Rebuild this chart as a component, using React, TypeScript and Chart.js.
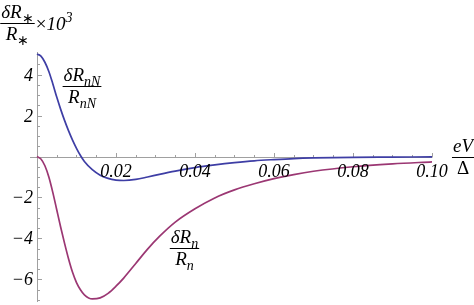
import React, { useEffect, useRef } from 'react';
import { Chart, registerables } from 'chart.js';

Chart.register(...registerables);

// eV/Δ values
const xValues = [0, 0.001, 0.002, 0.003, 0.004, 0.005, 0.006, 0.007, 0.008, 0.009, 0.010, 0.011, 0.012, 0.014, 0.016, 0.018, 0.020, 0.022, 0.025, 0.028, 0.031, 0.035, 0.040, 0.045, 0.050, 0.055, 0.060, 0.065, 0.070, 0.080, 0.090, 0.100];
// δR_nN / R_nN × 10^3
const nNValues = [5.0, 4.9, 4.6, 4.15, 3.55, 2.9, 2.3, 1.75, 1.25, 0.8, 0.4, 0.05, -0.24, -0.64, -0.91, -1.07, -1.15, -1.17, -1.12, -1.0, -0.87, -0.71, -0.54, -0.41, -0.3, -0.21, -0.15, -0.1, -0.07, -0.04, -0.03, -0.02];
// δR_n / R_n × 10^3
const nValues = [0, -0.12, -0.45, -1.0, -1.75, -2.6, -3.45, -4.25, -5.0, -5.65, -6.15, -6.5, -6.75, -6.95, -6.9, -6.68, -6.33, -5.92, -5.22, -4.52, -3.9, -3.2, -2.55, -2.02, -1.63, -1.33, -1.08, -0.88, -0.72, -0.5, -0.36, -0.26];

const xTickValues = [0.02, 0.04, 0.06, 0.08, 0.1];
const xTickLabels = ['0.02', '0.04', '0.06', '0.08', '0.10'];
const yTickValues = [4, 2, -2, -4, -6];
const yTickLabels = ['4', '2', '\u22122', '\u22124', '\u22126'];

const X_MIN = -0.00177;
const X_MAX = 0.1;
const Y_MIN = -7.1;
const Y_MAX = 5.1;
const X_MINOR = 0.005;
const Y_MINOR = 0.5;

const BLUE = 'rgb(62, 62, 165)';
const PURPLE = 'rgb(155, 55, 115)';
const AXIS = '#a0a0a0';
const FAMILY = '"Liberation Serif", Tinos, "Times New Roman"';

type Seg = { t: string; s?: 'sub' | 'sup'; up?: boolean };

function segFont(seg: Seg, size: number) {
  const sz = seg.s ? Math.round(size * 0.72) : size;
  return `${seg.up ? '' : 'italic '}${sz}px ${FAMILY}`;
}
function measureSegs(ctx: CanvasRenderingContext2D, segs: Seg[], size: number) {
  let w = 0;
  for (const s of segs) {
    ctx.font = segFont(s, size);
    w += ctx.measureText(s.t).width;
  }
  return w;
}
function drawSegs(ctx: CanvasRenderingContext2D, segs: Seg[], x: number, base: number, size: number) {
  let cx = x;
  ctx.textAlign = 'left';
  ctx.textBaseline = 'alphabetic';
  for (const s of segs) {
    ctx.font = segFont(s, size);
    const dy = s.s === 'sub' ? size * 0.28 : s.s === 'sup' ? -size * 0.42 : 0;
    ctx.fillText(s.t, cx, base + dy);
    cx += ctx.measureText(s.t).width;
  }
  return cx;
}
function drawFraction(ctx: CanvasRenderingContext2D, num: Seg[], den: Seg[], cx: number, barY: number, size: number) {
  const wn = measureSegs(ctx, num, size);
  const wd = measureSegs(ctx, den, size);
  const w = Math.max(wn, wd) + 2;
  drawSegs(ctx, num, cx - wn / 2, barY - 5, size);
  drawSegs(ctx, den, cx - wd / 2, barY + 17, size);
  ctx.save();
  ctx.strokeStyle = '#000';
  ctx.lineWidth = 1;
  ctx.beginPath();
  ctx.moveTo(cx - w / 2, Math.round(barY) + 0.5);
  ctx.lineTo(cx + w / 2, Math.round(barY) + 0.5);
  ctx.stroke();
  ctx.restore();
  return cx + w / 2;
}

const mathAxes = {
  id: 'mathAxes',
  beforeDatasetsDraw(chart: any) {
    const { ctx, scales } = chart;
    const xs = scales.x;
    const ys = scales.y;
    const x0 = Math.round(xs.getPixelForValue(0)) + 0.5;
    const y0 = Math.round(ys.getPixelForValue(0)) + 0.5;
    ctx.save();
    ctx.strokeStyle = AXIS;
    ctx.lineWidth = 1;
    ctx.beginPath();
    ctx.moveTo(xs.getPixelForValue(X_MIN), y0);
    ctx.lineTo(xs.getPixelForValue(X_MAX), y0);
    ctx.moveTo(x0, ys.getPixelForValue(Y_MAX));
    ctx.lineTo(x0, ys.getPixelForValue(Y_MIN));
    for (let i = 1; i * X_MINOR <= X_MAX + 1e-9; i++) {
      const v = i * X_MINOR;
      const px = Math.round(xs.getPixelForValue(v)) + 0.5;
      const len = i % 4 === 0 ? 4.5 : 2.5;
      ctx.moveTo(px, y0);
      ctx.lineTo(px, y0 - len);
    }
    for (let i = Math.ceil(Y_MIN / Y_MINOR); i * Y_MINOR <= Y_MAX; i++) {
      if (i === 0) continue;
      const v = i * Y_MINOR;
      const py = Math.round(ys.getPixelForValue(v)) + 0.5;
      const len = i % 4 === 0 ? 4.5 : 2.5;
      ctx.moveTo(x0, py);
      ctx.lineTo(x0 + len, py);
    }
    ctx.stroke();
    ctx.restore();
  },
  afterDatasetsDraw(chart: any) {
    const { ctx, scales } = chart;
    const xs = scales.x;
    const ys = scales.y;
    const x0 = xs.getPixelForValue(0);
    const y0 = ys.getPixelForValue(0);
    ctx.save();
    ctx.fillStyle = '#000';
    ctx.font = `italic 18px ${FAMILY}`;
    ctx.textBaseline = 'alphabetic';
    ctx.textAlign = 'center';
    xTickValues.forEach((v, i) => {
      ctx.fillText(xTickLabels[i], xs.getPixelForValue(v), y0 + 20);
    });
    ctx.textAlign = 'right';
    yTickValues.forEach((v, i) => {
      ctx.fillText(yTickLabels[i], x0 - 4, ys.getPixelForValue(v) + 6);
    });

    const S = 19;
    const end = drawFraction(ctx, [{ t: 'δR' }, { t: '∗', s: 'sub', up: true }], [{ t: 'R' }, { t: '∗', s: 'sub', up: true }], 17.5, 23, S);
    drawSegs(ctx, [{ t: '×', up: true }, { t: '10' }, { t: '3', s: 'sup' }], end + 1, 30, S);
    drawFraction(ctx, [{ t: 'δR' }, { t: 'nN', s: 'sub' }], [{ t: 'R' }, { t: 'nN', s: 'sub' }], 82, 86, S);
    drawFraction(ctx, [{ t: 'δR' }, { t: 'n', s: 'sub' }], [{ t: 'R' }, { t: 'n', s: 'sub' }], 184.5, 248, S);
    drawFraction(ctx, [{ t: 'eV' }], [{ t: 'Δ', up: true }], 463, 157, S);
    ctx.restore();
  },
};

export default function App() {
  const ref = useRef<HTMLCanvasElement | null>(null);
  useEffect(() => {
    if (!ref.current) return;
    const chart = new Chart(ref.current, {
      type: 'line',
      data: {
        datasets: [
          {
            label: 'nN',
            data: xValues.map((x, i) => ({ x, y: nNValues[i] })),
            borderColor: BLUE,
            borderWidth: 1.7,
            pointRadius: 0,
            cubicInterpolationMode: 'monotone',
            fill: false,
          },
          {
            label: 'n',
            data: xValues.map((x, i) => ({ x, y: nValues[i] })),
            borderColor: PURPLE,
            borderWidth: 1.7,
            pointRadius: 0,
            cubicInterpolationMode: 'monotone',
            fill: false,
          },
        ],
      },
      options: {
        responsive: false,
        animation: false,
        events: [],
        layout: { padding: { left: 30, right: 42, top: 52, bottom: 3 } },
        plugins: { legend: { display: false }, tooltip: { enabled: false }, title: { display: false } },
        scales: {
          x: { type: 'linear', min: X_MIN, max: X_MAX, display: false },
          y: { type: 'linear', min: Y_MIN, max: Y_MAX, display: false },
        },
      },
      plugins: [mathAxes],
    });
    return () => chart.destroy();
  }, []);
  return (
    <div style={{ position: 'fixed', left: 0, top: 0, width: 474, height: 305, background: '#fff' }}>
      <canvas ref={ref} width={474} height={305} style={{ display: 'block' }} />
    </div>
  );
}
